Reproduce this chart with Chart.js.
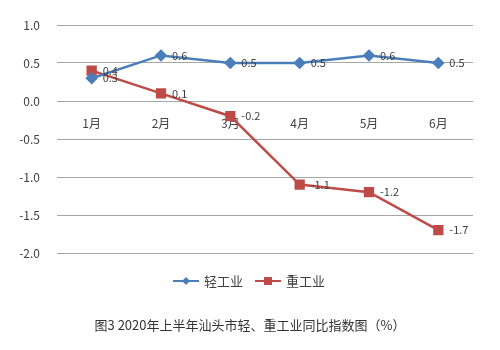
<!DOCTYPE html>
<html>
<head>
<meta charset="utf-8">
<script src="https://cdn.jsdelivr.net/npm/chart.js@4/dist/chart.umd.min.js"></script>
<style>
  html, body { margin: 0; padding: 0; background: #fff; }
  #wrap { width: 500px; height: 350px; }
</style>
</head>
<body>
<div id="wrap"><canvas id="idxChart" width="500" height="350"></canvas></div>
<script>
// --- Data ---
const months = ["1月", "2月", "3月", "4月", "5月", "6月"];
const lightInd = [0.3, 0.6, 0.5, 0.5, 0.6, 0.5];
const heavyInd = [0.4, 0.1, -0.2, -1.1, -1.2, -1.7];
const seriesNames = ["轻工业", "重工业"];
const chartTitle = "图3 2020年上半年汕头市轻、重工业同比指数图（%）";

const BLUE = "#4a7ebb";
const RED = "#be4b48";
const TEXT = "#404040";
const FONT = "'Noto Sans CJK SC', 'Noto Sans', sans-serif";

// value labels right of each point
const pointLabels = {
  id: "pointLabels",
  afterDatasetsDraw(chart) {
    const ctx = chart.ctx;
    ctx.save();
    ctx.font = "11px " + FONT;
    ctx.fillStyle = TEXT;
    ctx.textAlign = "left";
    ctx.textBaseline = "middle";
    chart.data.datasets.forEach((ds, i) => {
      chart.getDatasetMeta(i).data.forEach((pt, j) => {
        ctx.fillText(ds.data[j].toFixed(1), pt.x + 11, pt.y);
      });
    });
    ctx.restore();
  }
};

// legend (line + marker) and caption underneath the plot
const footer = {
  id: "footer",
  afterDraw(chart) {
    const ctx = chart.ctx;
    ctx.save();
    const items = [
      { name: seriesNames[0], color: BLUE, x: 173, shape: "diamond" },
      { name: seriesNames[1], color: RED, x: 255, shape: "square" }
    ];
    const ly = 281;
    items.forEach(it => {
      ctx.strokeStyle = it.color;
      ctx.lineWidth = 2;
      ctx.beginPath();
      ctx.moveTo(it.x, ly);
      ctx.lineTo(it.x + 26, ly);
      ctx.stroke();
      ctx.fillStyle = it.color;
      const cx = it.x + 13;
      if (it.shape === "diamond") {
        ctx.beginPath();
        ctx.moveTo(cx, ly - 4);
        ctx.lineTo(cx + 4, ly);
        ctx.lineTo(cx, ly + 4);
        ctx.lineTo(cx - 4, ly);
        ctx.closePath();
        ctx.fill();
      } else {
        ctx.fillRect(cx - 4, ly - 4, 8, 8);
      }
      ctx.fillStyle = TEXT;
      ctx.font = "13px " + FONT;
      ctx.textAlign = "left";
      ctx.textBaseline = "middle";
      ctx.fillText(it.name, it.x + 31, ly);
    });
    ctx.fillStyle = "#333";
    ctx.font = "13px " + FONT;
    ctx.textAlign = "center";
    ctx.fillText(chartTitle, 250, 325);
    ctx.restore();
  }
};

new Chart(document.getElementById("idxChart"), {
  type: "line",
  data: {
    labels: months,
    datasets: [
      {
        label: seriesNames[0],
        data: lightInd,
        borderColor: BLUE,
        backgroundColor: BLUE,
        borderWidth: 2.5,
        pointStyle: "rectRot",
        pointRadius: 4.5,
        tension: 0
      },
      {
        label: seriesNames[1],
        data: heavyInd,
        borderColor: RED,
        backgroundColor: RED,
        borderWidth: 2.5,
        pointStyle: "rect",
        pointRadius: 5.5,
        tension: 0
      }
    ]
  },
  options: {
    responsive: false,
    animation: false,
    layout: { padding: { top: 25, bottom: 97, right: 27, left: 0 } },
    plugins: {
      legend: { display: false },
      tooltip: { enabled: false }
    },
    scales: {
      x: {
        position: { y: 0 },
        offset: true,
        grid: { display: false, drawTicks: false },
        border: { display: false },
        ticks: {
          color: TEXT,
          font: { family: FONT, size: 12 },
          padding: 15,
          maxRotation: 0
        }
      },
      y: {
        min: -2,
        max: 1,
        afterFit(scale) { scale.width = 57; },
        grid: { color: "#a6a6a6", lineWidth: 1, drawTicks: false },
        border: { display: false },
        ticks: {
          stepSize: 0.5,
          color: TEXT,
          font: { family: FONT, size: 12 },
          padding: 17,
          callback: v => v.toFixed(1)
        }
      }
    }
  },
  plugins: [pointLabels, footer]
});
</script>
</body>
</html>
